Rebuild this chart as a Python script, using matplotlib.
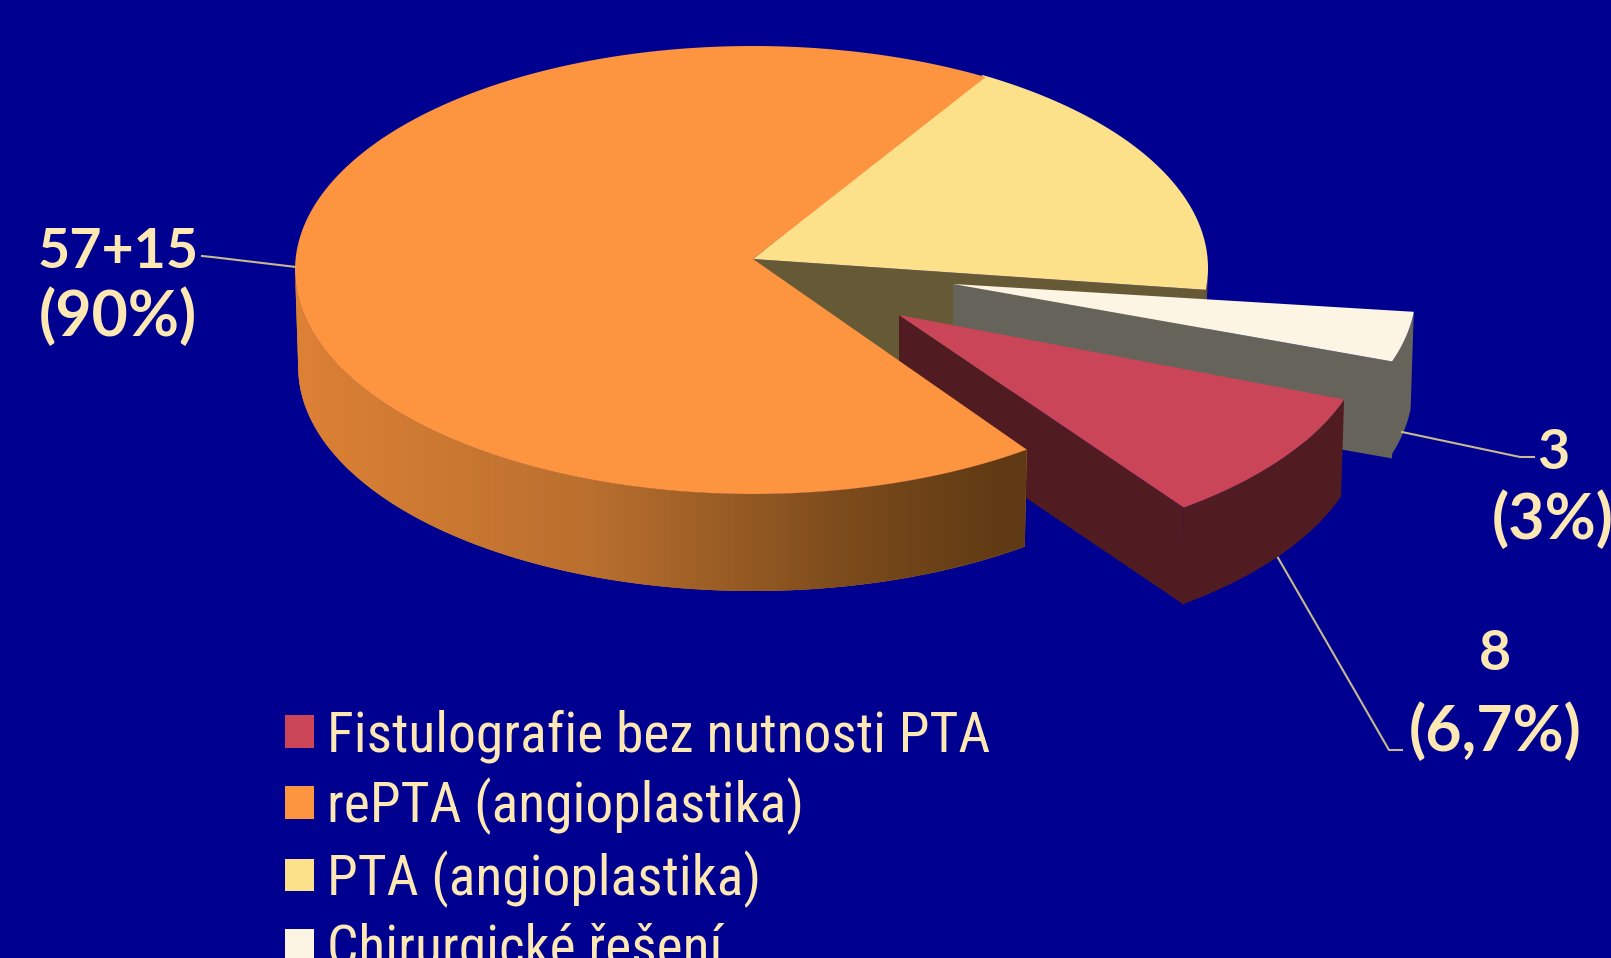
import numpy as np
import matplotlib
matplotlib.use('Agg')
import matplotlib.pyplot as plt
from matplotlib.colors import LinearSegmentedColormap
from matplotlib.patches import Patch, Polygon

labels = ['Fistulografie bez nutnosti PTA', 'rePTA (angioplastika)',
          'PTA (angioplastika)', 'Chirurgické řešení']
values = [8, 57, 15, 3]
callouts = ['8\n(6,7%)', '57+15\n(90%)', '3\n(3%)']

top_colors = ['#cb4558', '#fd943f', '#fce08a', '#fdf5e4']
side_colors = ['#511b22', '#dd8135', '#665a36', '#66635a']
BG = '#000090'
TEXT = '#fde8b3'
LEADER = '#c8b98e'

# layout, in pixels of the picture
CX, CY = 753, 270
RX, RY = 458, 224
DEPTH = 97
BOTTOM_SHRINK = 0.993
START = -18.6
# ellipse centre and apex offset from it, per slice
centres = [(910, 328), (CX, CY), (750, 268), (958, 290)]
apex_shift = [(-11, -13), (0, -11), (3, -9), (-5, -6)]


def rim(a1, a2, cx, cy, rx=RX, ry=RY):
    t = np.radians(np.linspace(a1, a2, 200))
    return np.column_stack([cx + rx*np.cos(t), cy - ry*np.sin(t)])


def side_poly(a1, a2, cx, cy):
    # outer wall, only the part that faces the viewer
    t = np.linspace(a1, a2, 300)
    t = t[np.sin(np.radians(t)) <= 0.001]
    if len(t) < 2:
        return None
    top = rim(t[0], t[-1], cx, cy)
    bot = rim(t[0], t[-1], cx, cy + DEPTH, rx=RX*BOTTOM_SHRINK)
    return np.vstack([top, bot[::-1]])


def cut_poly(apex, p):
    return [apex, p, (p[0], p[1] + DEPTH), (apex[0], apex[1] + DEPTH)]


fig, ax = plt.subplots(figsize=(16.11, 9.58), dpi=100, facecolor=BG)
ax.set_position([0, 0, 1, 1])
ax.set_facecolor(BG)
ax.axis('off')

edges = START - np.concatenate([[0], np.cumsum(values)]) / sum(values) * 360
slices = {}
for i in range(len(values)):
    cx, cy = centres[i]
    apex = (cx + apex_shift[i][0], cy + apex_shift[i][1])
    slices[i] = (edges[i], edges[i+1], cx, cy, apex)

# back to front: yellow, white, red, orange
a1, a2, cx, cy, apex = slices[2]
p = rim(a2, a2, cx, cy)[0]
ax.add_patch(Polygon(cut_poly(apex, p), fc=side_colors[2], ec='none', zorder=1))
side = side_poly(a2, a2 + 10, cx, cy)
if side is not None:
    ax.add_patch(Polygon(side, fc=side_colors[2], ec='none', zorder=1))
ax.add_patch(Polygon(np.vstack([[apex], rim(a1, a2, cx, cy)]),
                     fc=top_colors[2], ec='none', zorder=2))

for i, z in ((3, 3), (0, 5)):
    a1, a2, cx, cy, apex = slices[i]
    ends = rim(a1, a2, cx, cy)
    # the cut face towards the viewer starts at the clockwise end
    ax.add_patch(Polygon(cut_poly(apex, ends[-1]), fc=side_colors[i], ec='none', zorder=z))
    ax.add_patch(Polygon(side_poly(a2, a1, cx, cy), fc=side_colors[i], ec='none', zorder=z))
    ax.add_patch(Polygon(np.vstack([[apex], ends]), fc=top_colors[i], ec='none', zorder=z + 1))

# orange wall with its left to right shading
a1, a2, cx, cy, apex = slices[1]
wall = Polygon(side_poly(180, a1 + 360, cx, cy), fc=side_colors[1], ec='none', zorder=7)
ax.add_patch(wall)
shade = LinearSegmentedColormap.from_list(
    'wall', [(0, '#dd8135'), (0.4, '#b96f2e'), (0.75, '#7a4a1b'), (0.95, '#603a14'), (1, '#603a14')])
img = ax.imshow(np.linspace(0, 1, 256)[None, :], cmap=shade, aspect='auto', zorder=7.5,
                extent=(295, 1040, 600, 260))
img.set_clip_path(wall)
ax.set_xlim(0, 1611)
ax.set_ylim(958, 0)
ax.add_patch(Polygon(np.vstack([[apex], rim(a1, a2, cx, cy)]),
                     fc=top_colors[1], ec='none', zorder=8))

# leaders
ax.plot([202, 212, 296], [256, 257, 267], color=LEADER, lw=1.5, zorder=4)
ax.plot([1402, 1520, 1534], [432, 457, 457], color=LEADER, lw=1.5, zorder=4)
ax.plot([1277, 1389, 1402], [556, 750, 750], color=LEADER, lw=1.5, zorder=4)

head_font = dict(family='Lato', weight='bold', size=40, color=TEXT, ha='center',
                 va='center', clip_on=False)
pct_font = dict(head_font, size=45)
ax.text(118, 252, callouts[1].split('\n')[0], **head_font)
ax.text(118, 317, callouts[1].split('\n')[1], **pct_font)
ax.text(1553, 453, callouts[2].split('\n')[0], **head_font)
ax.text(1553, 520, callouts[2].split('\n')[1], **pct_font)
ax.text(1495, 654, callouts[0].split('\n')[0], **head_font)
ax.text(1495, 732, callouts[0].split('\n')[1], **pct_font)

handles = [Patch(fc=c, ec='none') for c in top_colors]
ax.legend(handles, labels, loc='upper left', bbox_to_anchor=(285, 709),
          bbox_transform=ax.transData, frameon=False, labelcolor=TEXT,
          prop={'family': 'Roboto Condensed', 'size': 40},
          handlelength=0.52, handleheight=0.52, handletextpad=0.24,
          labelspacing=0.27, borderaxespad=0, borderpad=0)

fig.savefig('out.png', dpi=100, facecolor=BG)
